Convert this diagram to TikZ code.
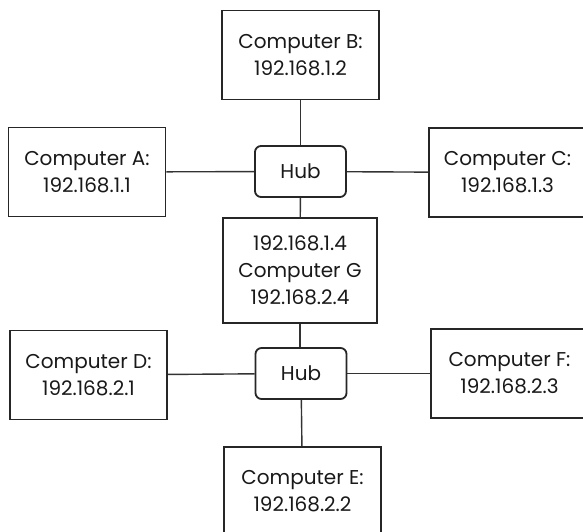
\documentclass[tikz,border=0pt]{standalone}
\usepackage{fontspec}
\setmainfont{Poppins}
\begin{document}
\begin{tikzpicture}[x=1pt,y=-1pt,
  pc/.style={draw=black!85,line width=1.8pt,minimum width=157pt,minimum height=89pt,
    inner sep=0pt,align=center,font=\fontsize{20}{27}\selectfont,text=black!90},
  hubbox/.style={draw=black!85,line width=1.8pt,rounded corners=6pt,minimum width=91pt,
    minimum height=51pt,inner sep=0pt,font=\fontsize{20}{27}\selectfont,text=black!90},
  wire/.style={draw=black!80,line width=1.4pt}]
\clip (0,0) rectangle (583,532);
\fill[white] (0,0) rectangle (583,532);
% upper network
\node[pc] (B) at (300.5,55) {Computer B:\\192.168.1.2};
\node[pc] (A) at (87,172) {Computer A:\\192.168.1.1};
\node[pc] (C) at (507.5,172.5) {Computer C:\\192.168.1.3};
\node[hubbox] (H1) at (300.5,171.5) {Hub};
\node[pc,minimum width=154pt,minimum height=105pt] (G) at (300,270.5) {192.168.1.4\\Computer G\\192.168.2.4};
% lower network
\node[pc] (D) at (88.5,375) {Computer D:\\192.168.2.1};
\node[pc] (F) at (509.5,373.5) {Computer F:\\192.168.2.3};
\node[hubbox] (H2) at (301,373.5) {Hub};
\node[pc,minimum height=88pt] (E) at (302.5,491) {Computer E:\\192.168.2.2};
% wires
\draw[wire] (B) -- (H1);
\draw[wire] (A) -- (H1);
\draw[wire] (H1) -- (C);
\draw[wire] (H1) -- (G);
\draw[wire] (G) -- (G |- H2.north);
\draw[wire] (D) -- (H2);
\draw[wire] (H2) -- (F);
\draw[wire] (H2) -- (E);
\end{tikzpicture}
\end{document}
